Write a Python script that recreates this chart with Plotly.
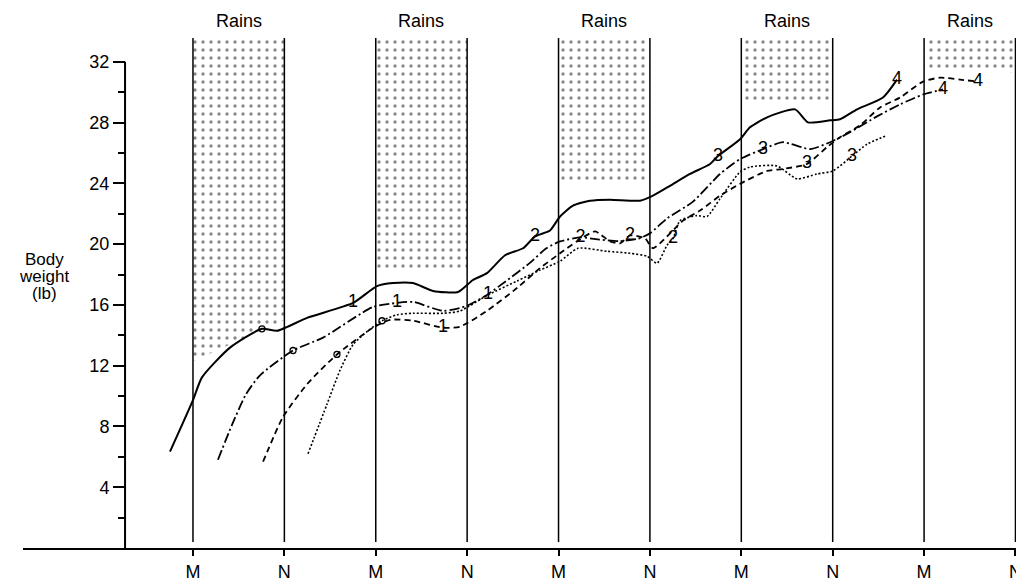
import numpy as np
import plotly.graph_objects as go

# x: months measured from the first May (M); y: body weight (lb)
tick_vals = [0, 6, 12, 18, 24, 30, 36, 42, 48, 54]
tick_text = ["M", "N", "M", "N", "M", "N", "M", "N", "M", "N"]
y_major = [4, 8, 12, 16, 20, 24, 28, 32]
y_minor = [2, 6, 10, 14, 18, 22, 26, 30]
rain_starts = [0, 12, 24, 36, 48]
rain_ends = [6, 18, 30, 42, 54]
rain_bottom_left = [12.3, 18.4, 24.0, 29.3, 31.6]
rain_bottom_right = [15.0, 18.4, 24.0, 29.3, 31.3]

solid_x = [-1.51, 0.0, 0.59, 2.43, 4.53, 5.52, 7.49, 10.51, 12.08, 13.13, 14.45, 15.76, 17.40,
           18.38, 19.30, 20.49, 21.67, 22.46, 23.44, 24.10, 24.95, 26.07, 27.38, 29.35, 30.20,
           31.32, 32.63, 33.95, 34.47, 35.92, 36.57, 37.69, 39.53, 40.38, 41.83, 42.48, 43.60,
           45.30, 46.22]
solid_y = [6.34, 9.73, 11.23, 13.19, 14.43, 14.30, 15.15, 16.13, 17.24, 17.44, 17.44, 16.92, 16.85,
           17.64, 18.09, 19.27, 19.73, 20.51, 20.90, 21.82, 22.53, 22.86, 22.93, 22.86, 23.19,
           23.84, 24.62, 25.28, 25.80, 26.91, 27.69, 28.35, 28.87, 28.02, 28.15, 28.22, 28.87,
           29.65, 30.83]

dashdot_x = [1.64, 2.56, 3.48, 4.40, 6.57, 8.54, 11.82, 13.39, 14.45, 16.42, 17.99, 19.30, 20.55,
             22.10, 23.20, 24.10, 25.45, 26.70, 28.00, 29.20, 30.00, 31.12, 32.83, 34.60, 35.92,
             37.43, 38.74, 40.51, 41.83, 43.14, 44.91, 46.42, 47.93, 49.24]
dashdot_y = [5.81, 8.10, 10.12, 11.37, 13.00, 13.85, 15.87, 16.13, 16.20, 15.61, 15.94, 16.66, 17.57,
             18.75, 19.73, 20.18, 20.44, 20.30, 20.20, 20.35, 20.71, 21.69, 22.80, 24.62, 25.60,
             26.26, 26.71, 26.26, 26.71, 27.37, 28.41, 29.20, 29.85, 30.18]

dashed_x = [4.60, 5.91, 7.49, 9.45, 11.82, 12.94, 14.45, 16.42, 17.53, 19.30, 21.27, 22.78, 24.10,
            25.21, 26.40, 27.38, 28.04, 28.69, 29.68, 30.20, 32.17, 33.29, 34.60, 35.92, 37.69,
            38.74, 40.31, 41.63, 42.48, 43.80, 45.11, 46.42, 47.93, 49.05, 50.36, 51.54]
dashed_y = [5.68, 8.62, 10.78, 12.74, 14.50, 15.02, 14.96, 14.50, 14.57, 15.61, 17.11, 18.42, 19.40,
            20.18, 20.84, 20.18, 20.05, 20.57, 20.38, 19.73, 21.55, 22.21, 23.19, 23.97, 24.82,
            24.95, 25.28, 26.39, 27.04, 27.82, 29.00, 29.65, 30.70, 30.96, 30.83, 30.70]

dotted_x = [7.55, 8.80, 9.65, 10.51, 11.49, 12.41, 13.39, 14.45, 16.42, 17.53, 19.37, 21.27, 22.78,
            24.10, 25.28, 27.18, 28.69, 29.81, 30.47, 31.12, 31.52, 31.98, 33.09, 33.75, 34.60,
            35.92, 36.57, 38.34, 39.66, 40.97, 42.02, 43.27, 44.25, 45.44]
dotted_y = [6.20, 9.47, 11.69, 13.39, 14.30, 14.96, 15.35, 15.45, 15.45, 15.60, 16.66, 17.57, 18.29,
            18.88, 19.73, 19.53, 19.40, 19.20, 18.75, 19.92, 20.38, 21.55, 21.88, 21.82, 22.99,
            24.76, 25.08, 25.15, 24.30, 24.62, 24.82, 25.80, 26.58, 27.11]

# age labels (years) placed along each curve, and the small circle on each curve
solid_label_x = [10.51, 22.46, 34.47, 46.22]
dashdot_label_x = [13.39, 25.45, 37.43, 49.24]
dashed_label_x = [16.42, 28.69, 40.31, 51.54]
dotted_label_x = [19.37, 31.52, 43.27]
circle_x = [4.53, 6.57, 9.45, 12.41]

# ---- layout geometry (figure sits 8px inside the page because of the body margin) ----
FIG_W, FIG_H = 1016, 574
PLOT_TOP, PLOT_BOTTOM = 30, 544          # figure pixels
Y_TOP = 33.57
X_MIN, X_MAX = -11.16, 54.56
Y_AXIS_X = -4.46


def paper_y(fig_px):
    return (PLOT_BOTTOM - fig_px) / (PLOT_BOTTOM - PLOT_TOP)


FONT = "Liberation Sans, Arial, Helvetica, sans-serif"
NARROW = "Liberation Sans Narrow, Liberation Sans, Arial, sans-serif"

fig = go.Figure()

# stippled rain bands
for s, e, bl, br in zip(rain_starts, rain_ends, rain_bottom_left, rain_bottom_right):
    fig.add_trace(go.Scatter(
        x=[s, e, e, s, s], y=[Y_TOP, Y_TOP, br, bl, Y_TOP], mode="lines",
        line=dict(width=0), fill="toself", fillcolor="white",
        fillpattern=dict(shape=".", fgcolor="#111111", bgcolor="white", size=8, solidity=0.14),
        hoverinfo="skip", showlegend=False))

curves = [
    (solid_x, solid_y, "solid", 2.0, solid_label_x),
    (dashdot_x, dashdot_y, "10px,3px,2px,3px", 1.8, dashdot_label_x),
    (dashed_x, dashed_y, "6px,4px", 1.8, dashed_label_x),
    (dotted_x, dotted_y, "2px,2px", 1.6, dotted_label_x),
]
for cx, cy, dash, w, lx in curves:
    fig.add_trace(go.Scatter(x=cx, y=cy, mode="lines",
                             line=dict(color="black", width=w, dash=dash, shape="spline", smoothing=0.6),
                             hoverinfo="skip", showlegend=False))
    ly = np.interp(lx, cx, cy)
    fig.add_trace(go.Scatter(x=lx, y=ly, mode="text", text=[str(i + 1) for i in range(len(lx))],
                             textposition="middle center",
                             textfont=dict(family=FONT, size=18, color="black"),
                             hoverinfo="skip", showlegend=False))

circle_y = [float(np.interp(x, c[0], c[1])) for x, c in zip(circle_x, curves)]
fig.add_trace(go.Scatter(x=circle_x, y=circle_y, mode="markers",
                         marker=dict(symbol="circle-open", size=6, color="black", line=dict(width=1.3)),
                         hoverinfo="skip", showlegend=False))

shapes = []
for v in tick_vals:
    shapes.append(dict(type="line", xref="x", yref="y", x0=v, x1=v, y0=0.4, y1=Y_TOP,
                       line=dict(color="black", width=1.5)))
shapes.append(dict(type="line", xref="x", yref="y", x0=Y_AXIS_X, x1=Y_AXIS_X, y0=0, y1=32,
                   line=dict(color="black", width=2)))

annotations = []
for s, e in zip(rain_starts, rain_ends):
    annotations.append(dict(x=(s + e) / 2, y=paper_y(13), xref="x", yref="paper", text="Rains",
                            showarrow=False, yanchor="middle",
                            font=dict(family=FONT, size=18, color="black")))
for txt, py in zip(["Body", "weight", "(lb)"], [253, 270, 287]):
    annotations.append(dict(x=36 / FIG_W, y=paper_y(py), xref="paper", yref="paper", text=txt,
                            showarrow=False, xanchor="center", yanchor="middle",
                            font=dict(family=FONT, size=17, color="black")))

fig.update_layout(
    width=FIG_W, height=FIG_H,
    margin=dict(l=0, r=0, t=PLOT_TOP, b=FIG_H - PLOT_BOTTOM),
    plot_bgcolor="white", paper_bgcolor="white",
    shapes=shapes, annotations=annotations,
    xaxis=dict(domain=[15 / FIG_W, 1], range=[X_MIN, X_MAX], showgrid=False, zeroline=False,
               showline=True, linecolor="black", linewidth=2,
               tickmode="array", tickvals=tick_vals, ticktext=tick_text,
               ticks="outside", ticklen=6, tickwidth=2, tickcolor="black",
               tickfont=dict(family=NARROW, size=18, color="black")),
    yaxis=dict(range=[0, Y_TOP], anchor="free", position=117 / FIG_W, showgrid=False,
               zeroline=False, showline=False,
               tickmode="array", tickvals=y_major,
               ticks="outside", ticklen=12, tickwidth=2, tickcolor="black",
               tickfont=dict(family=FONT, size=18, color="black"),
               minor=dict(tickvals=y_minor, ticks="outside",
                          ticklen=7, tickwidth=2, tickcolor="black")),
)

fig.write_html("out.html")
